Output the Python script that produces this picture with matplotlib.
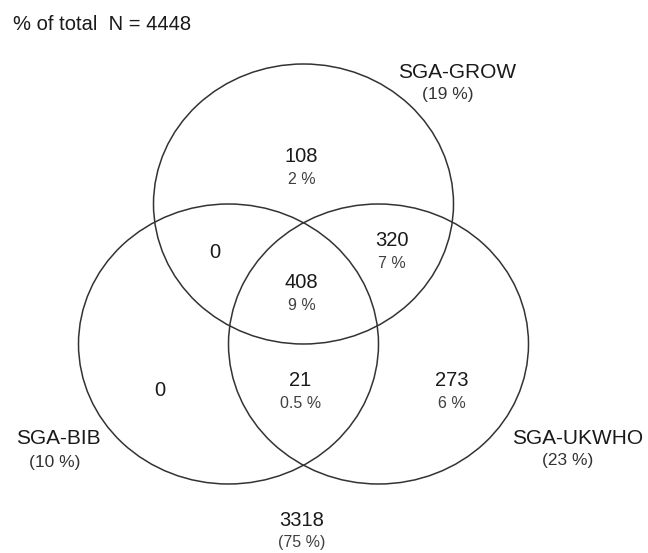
import matplotlib
matplotlib.use("Agg")
import matplotlib.pyplot as plt
from matplotlib.patches import Ellipse

plt.rcParams['font.family'] = ['Liberation Sans', 'DejaVu Sans']

W = 648  # figure width, px
H = 553  # figure height, px

# data
N_TOTAL = 4448
set_names = ["SGA-GROW", "SGA-BIB", "SGA-UKWHO"]
set_pct = [19, 10, 23]
region_names = ["GROW only", "GROW+BIB", "GROW+UKWHO", "all three",
                "BIB only", "BIB+UKWHO", "UKWHO only", "none"]
region_counts = [108, 0, 320, 408, 0, 21, 273, 3318]
region_pct = ["2 %", "", "7 %", "9 %", "", "0.5 %", "6 %", "(75 %)"]

# layout (pixel coordinates, y downwards)
circle_centers = [(303.5, 204), (228.5, 344), (378.5, 344)]
RX = 150
RY = 140
region_pos = [(301.5, 157), (215, 253), (391.5, 240), (301.5, 282),
              (160, 390), (300.5, 381), (451.5, 381), (301.5, 520)]
set_label_pos = [((457, 72), (448, 94)),
                 ((58, 439), (55, 463)),
                 ((578, 439), (568, 461))]

fig = plt.figure(figsize=(W / 100, H / 100), dpi=100)
ax = fig.add_axes([0, 0, 1, 1])
ax.set_xlim(0, W)
ax.set_ylim(H, 0)
ax.axis("off")

for cx, cy in circle_centers:
    ax.add_patch(Ellipse((cx, cy), 2 * RX, 2 * RY, fill=False,
                         edgecolor="#333333", linewidth=1.1))

for (x, y), n, p in zip(region_pos, region_counts, region_pct):
    ax.text(x, y, str(n), ha="center", va="center", fontsize=14.5, color="#1a1a1a")
    if p:
        ax.text(x, y + 23, p, ha="center", va="center", fontsize=11.5, color="#404040")

for name, pct, (p1, p2) in zip(set_names, set_pct, set_label_pos):
    ax.text(p1[0], p1[1], name, ha="center", va="center", fontsize=15, color="#1a1a1a")
    ax.text(p2[0], p2[1], f"({pct} %)", ha="center", va="center", fontsize=12.5, color="#333333")

ax.text(13, 24, f"% of total  N = {N_TOTAL}", ha="left", va="center",
        fontsize=14.5, color="#1a1a1a")

fig.savefig("out.png", dpi=100)
